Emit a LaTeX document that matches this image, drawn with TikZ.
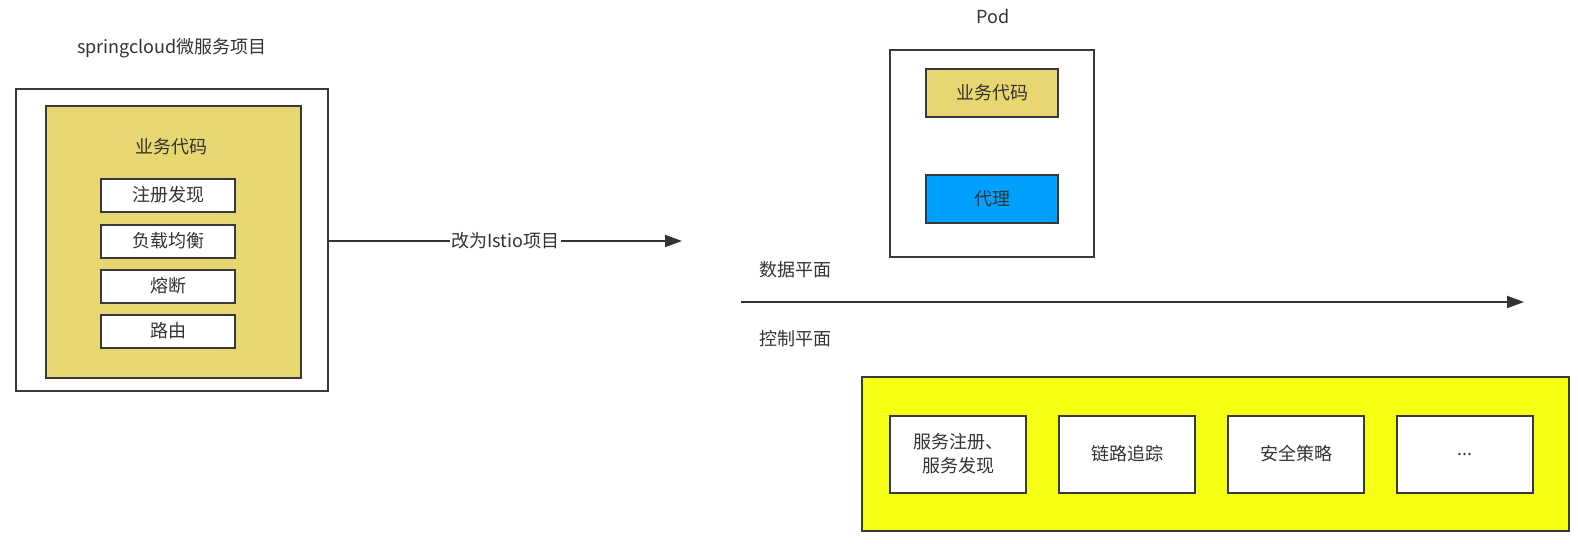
\documentclass[tikz,border=0pt]{standalone}
\usepackage{fontspec}
\setmainfont{Noto Sans CJK SC}
\usetikzlibrary{arrows.meta,positioning}
\definecolor{lineCol}{RGB}{54,57,61}
\definecolor{textCol}{RGB}{51,51,51}
\definecolor{codeCol}{RGB}{232,214,112}
\definecolor{proxyCol}{RGB}{0,160,255}
\definecolor{ctrlCol}{RGB}{245,255,20}
\begin{document}
\begin{tikzpicture}[x=1pt, y=-1pt,
  every node/.style={font=\fontsize{18}{24}\selectfont, text=textCol},
  box/.style n args={3}{draw=lineCol, line width=2pt, fill=#1,
    minimum width=#2, minimum height=#3, inner sep=0pt, align=center},
  label/.style={inner sep=1pt},
  connline/.style={line width=2pt, color=textCol,
    -{Triangle[length=17pt, width=12pt]}},
]
\useasboundingbox (0,0) rectangle (1578,543);
% LEFT: springcloud project
\node[label] (sctitle) at (172,48) {springcloud微服务项目};
\node[box={white}{312pt}{302pt}] (scbox) at (172,240) {};
\node[box={codeCol}{255pt}{272pt}] (sccode) at (173.5,242) {};
\node[label] (sccodet) at (171,147) {业务代码};
\node[box={white}{134pt}{33pt}] (reg) at (168,195) {注册发现};
\node[box={white}{134pt}{33pt}] (lb) at (168,241) {负载均衡};
\node[box={white}{134pt}{33pt}] (cb) at (168,286) {熔断};
\node[box={white}{134pt}{33pt}] (route) at (168,331) {路由};
% MIDDLE arrow
\coordinate (toistio) at (682,241);
\draw[connline] (scbox.east |- toistio) -- node[fill=white, inner sep=2pt] {改为Istio项目} (toistio);
% POD
\node[label] (podt) at (993,16) {Pod};
\node[box={white}{204pt}{207pt}] (pod) at (992,153.5) {};
\node[box={codeCol}{132pt}{48pt}] (podcode) at (992,93) {业务代码};
\node[box={proxyCol}{132pt}{48pt}] (proxy) at (992,198.5) {代理};
% PLANE divider
\node[label] (dataplane) at (795,270) {数据平面};
\node[label] (ctrlplane) at (795,339) {控制平面};
\coordinate (planeL) at (741,302);
\coordinate (planeR) at (1524,302);
\draw[connline] (planeL) -- (planeR);
% CONTROL plane
\node[box={ctrlCol}{707pt}{154pt}] (ctrl) at (1215.5,454) {};
\node[box={white}{136pt}{77pt}] (svc) at (958,454) {服务注册、\\服务发现};
\node[box={white}{136pt}{77pt}] (trace) at (1127,454) {链路追踪};
\node[box={white}{136pt}{77pt}] (sec) at (1296,454) {安全策略};
\node[box={white}{136pt}{77pt}] (more) at (1465,454) {...};
\end{tikzpicture}
\end{document}
